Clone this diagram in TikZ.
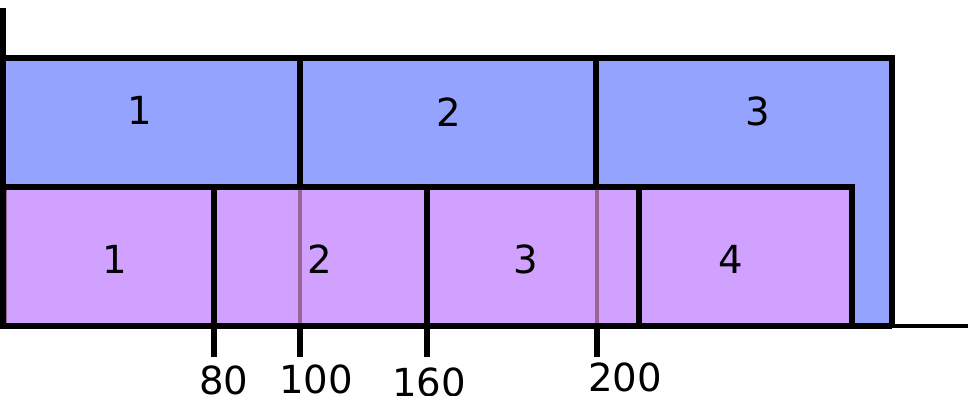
\documentclass[tikz,border=0pt]{standalone}
\usepackage{fontspec}
\setmainfont{DejaVu Sans}
\definecolor{bluefill}{HTML}{94A3FE}
\definecolor{purplefill}{HTML}{D0A1FE}
\definecolor{faintline}{HTML}{9A6496}
\begin{document}
\begin{tikzpicture}[x=0.75pt,y=-0.75pt,line width=4.2pt,
  lbl/.style={font=\fontsize{29}{32}\selectfont,inner sep=0pt},
  faint/.style={draw=faintline,line width=3.4pt}]
\useasboundingbox (0,0) rectangle (968,396);
% fills
\fill[bluefill] (3,58) rectangle (892,326);
\fill[purplefill] (5,187) rectangle (852,326);
\draw[faint] (300,189) -- (300,324);
\draw[faint] (597,189) -- (597,324);
\draw[faint,line width=2pt] (6,189) -- (6,324);
% blue outline and dividers
\draw (3,58) -- (892,58) -- (892,326);
\draw (300,58) -- (300,187);
\draw (596,58) -- (596,187);
% purple outline and dividers
\draw (5,187) -- (852,187) -- (852,326);
\draw (214,187) -- (214,357);
\draw (427,187) -- (427,357);
\draw (639,187) -- (639,326);
% ticks
\draw (300,326) -- (300,357);
\draw (597,326) -- (597,357);
% axes
\draw (3,8) -- (3,328);
\draw (0,326) -- (892,326);
\draw[line width=3.4pt] (892,326) -- (968,326);
% labels
\node[lbl] (b1) at (140,110) {1};
\node[lbl] (b2) at (449,112) {2};
\node[lbl] (b3) at (758,111) {3};
\node[lbl] (p1) at (115,259) {1};
\node[lbl] (p2) at (320,259) {2};
\node[lbl] (p3) at (526,259) {3};
\node[lbl] (p4) at (731,259) {4};
\node[lbl] (t80) at (224,380) {80};
\node[lbl] (t100) at (316,379) {100};
\node[lbl] (t160) at (429,382) {160};
\node[lbl] (t200) at (625,377) {200};
\end{tikzpicture}
\end{document}
